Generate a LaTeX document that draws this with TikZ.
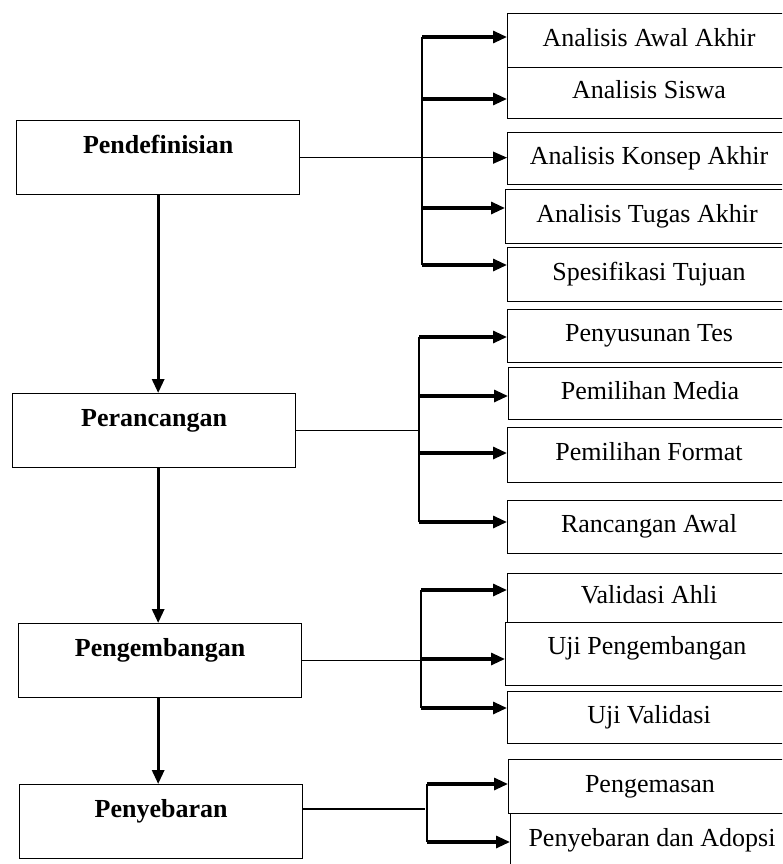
\documentclass[tikz,border=0pt]{standalone}
\usepackage{fontspec}
\setmainfont{Liberation Serif}
\usetikzlibrary{arrows.meta}

\begin{document}
\begin{tikzpicture}[
x=0.75pt, y=-0.75pt,
font=\fontsize{19.5}{23}\selectfont,
phase/.style={draw, line width=1pt, anchor=north west, inner sep=0pt, minimum width=212.25pt, text height=24.75pt, text depth=30.75pt, font=\fontsize{19.5}{23}\selectfont\bfseries},
item/.style={draw, line width=1pt, anchor=north west, inner sep=0pt, minimum width=212pt, minimum height=#1, text height=15pt, text depth=6.75pt},
item/.default=40.5pt,
tip/.style={-{Triangle[length=10.5pt, width=9pt]}},
arrow/.style={tip, line width=2.3pt},
link/.style={line width=1pt},
bar/.style={line width=1.5pt}
]
\clip (0,0) rectangle (782,864);
\node[phase] (pdef) at (16,120) {Pendefinisian};
\node[phase] (perc) at (12,393) {Perancangan};
\node[phase] (peng) at (18,623) {Pengembangan};
\node[phase] (peny) at (19,784) {Penyebaran};
\node[item] (awal) at (507,13) {Analisis Awal Akhir};
\node[item=38.25pt] (siswa) at (507,67) {Analisis Siswa};
\node[item=39pt] (konsep) at (507,132) {Analisis Konsep Akhir};
\node[item] (tugas) at (505,189) {Analisis Tugas Akhir};
\node[item] (spes) at (507,247) {Spesifikasi Tujuan};
\node[item=39.75pt] (tes) at (507,309) {Penyusunan Tes};
\node[item=39pt] (media) at (508,367) {Pemilihan Media};
\node[item=41.25pt] (format) at (507,427) {Pemilihan Format};
\node[item=39.75pt] (rancang) at (507,500) {Rancangan Awal};
\node[item=36.75pt] (ahli) at (507,573) {Validasi Ahli};
\node[item=47.25pt, text depth=15pt] (ujip) at (505,622) {Uji Pengembangan};
\node[item=39pt] (ujiv) at (507,691) {Uji Validasi};
\node[item] (kemas) at (508,759) {Pengemasan};
\node[item] (adopsi) at (510,813) {Penyebaran dan Adopsi};
\draw[arrow] (pdef.south) -- (pdef.south |- perc.north);
\draw[arrow] (perc.south -| pdef.south) -- (pdef.south |- peng.north);
\draw[arrow] (peng.south -| pdef.south) -- (pdef.south |- peny.north);
\coordinate (a1) at (422,37);
\coordinate (a2) at (422,99);
\coordinate (a4) at (422,208);
\coordinate (a5) at (422,265);
\draw[bar] (a1) -- (a5);
\draw[arrow] (a1) -- (a1 -| awal.west);
\draw[arrow] (a2) -- (a2 -| siswa.west);
\draw[link, tip] (pdef.east) -- (pdef.east -| konsep.west);
\draw[arrow] (a4) -- (a4 -| tugas.west);
\draw[arrow] (a5) -- (a5 -| spes.west);
\coordinate (c1) at (419,337);
\coordinate (c2) at (419,396);
\coordinate (c3) at (419,453);
\coordinate (c4) at (419,522);
\draw[link] (perc.east) -- (perc.east -| c1);
\draw[bar] (c1) -- (c4);
\draw[arrow] (c1) -- (c1 -| tes.west);
\draw[arrow] (c2) -- (c2 -| media.west);
\draw[arrow] (c3) -- (c3 -| format.west);
\draw[arrow] (c4) -- (c4 -| rancang.west);
\coordinate (d1) at (421,590);
\coordinate (d2) at (421,659);
\coordinate (d3) at (421,708);
\draw[link] (peng.east) -- (peng.east -| d1);
\draw[bar] (d1) -- (d3);
\draw[arrow] (d1) -- (d1 -| ahli.west);
\draw[arrow] (d2) -- (d2 -| ujip.west);
\draw[arrow] (d3) -- (d3 -| ujiv.west);
\coordinate (e0) at (425,809);
\coordinate (e1) at (427,784);
\coordinate (e2) at (427,842);
\draw[link] (e0 -| peny.east) -- (e0);
\draw[bar] (e1) -- (e2);
\draw[arrow] (e1) -- (e1 -| kemas.west);
\draw[arrow] (e2) -- (e2 -| adopsi.west);
\end{tikzpicture}
\end{document}
